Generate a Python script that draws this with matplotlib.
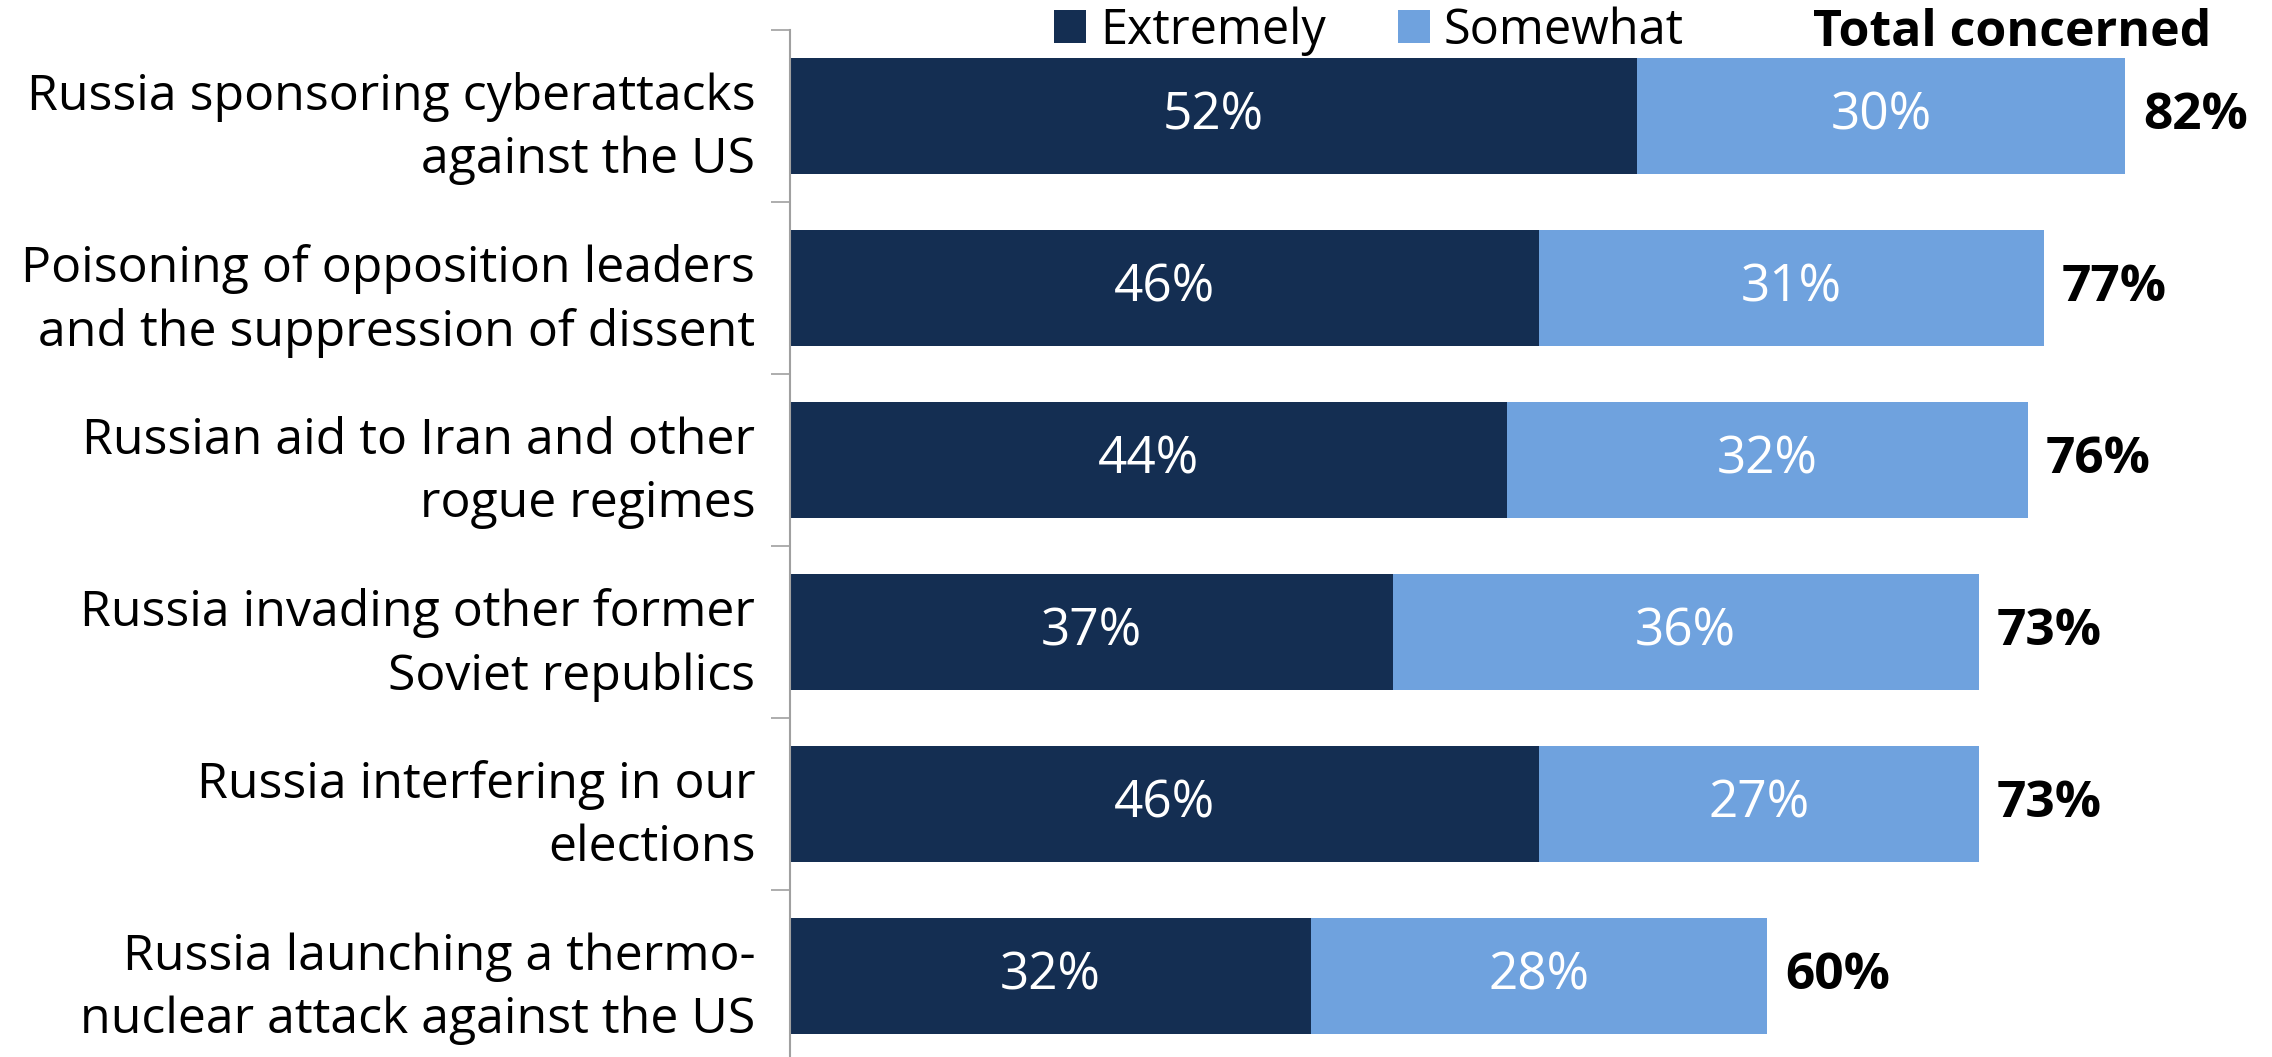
import matplotlib
matplotlib.use("Agg")
import matplotlib.pyplot as plt
from matplotlib.patches import Patch
import numpy as np

categories = [
    "Russia sponsoring cyberattacks\nagainst the US",
    "Poisoning of opposition leaders\nand the suppression of dissent",
    "Russian aid to Iran and other\nrogue regimes",
    "Russia invading other former\nSoviet republics",
    "Russia interfering in our\nelections",
    "Russia launching a thermo-\nnuclear attack against the US",
]
extremely = [52, 46, 44, 37, 46, 32]
somewhat = [30, 31, 32, 36, 27, 28]
series_names = ["Extremely", "Somewhat"]
total_title = "Total concerned"

dark = "#142e52"
light = "#6fa2de"

plt.rcParams['font.family'] = ['Open Sans', 'DejaVu Sans']

W, H = 2272, 1057
fig = plt.figure(figsize=(W / 100, H / 100), dpi=100)
ax_left, ax_right, ax_top, ax_bottom = 790, 2272, 30, 1062
ax = fig.add_axes([ax_left / W, (H - ax_bottom) / H, (ax_right - ax_left) / W, (ax_bottom - ax_top) / H])

y = np.arange(len(categories))
ax.barh(y, extremely, height=0.67, color=dark)
ax.barh(y, somewhat, left=extremely, height=0.67, color=light)

for i in range(len(categories)):
    ax.text(extremely[i] / 2, y[i], f"{extremely[i]}%", ha='center', va='center',
            color='white', fontsize=37)
    ax.text(extremely[i] + somewhat[i] / 2, y[i], f"{somewhat[i]}%", ha='center', va='center',
            color='white', fontsize=37)
    tot = extremely[i] + somewhat[i]
    ax.text(tot + 1.1, y[i], f"{tot}%", ha='left', va='center', color='black',
            fontsize=37, fontweight='bold')

ax.set_xlim(0, 91)
ax.set_ylim(len(categories) - 0.5, -0.5)
ax.set_yticks(y)
ax.set_yticklabels(categories, fontsize=36, linespacing=1.36)
ax.tick_params(axis='y', which='major', length=0, pad=25)
ax.set_yticks(np.arange(-0.5, len(categories), 1.0), minor=True)
ax.tick_params(axis='y', which='minor', length=14, width=1.2, color='#a0a0a0', direction='out')
ax.set_xticks([])
for s in ['top', 'right', 'bottom']:
    ax.spines[s].set_visible(False)
ax.spines['left'].set_color('#a0a0a0')
ax.spines['left'].set_linewidth(1.5)

handles = [Patch(facecolor=dark, label=series_names[0]), Patch(facecolor=light, label=series_names[1])]
leg = fig.legend(handles=handles, loc='upper left', bbox_to_anchor=(1054 / W, 1 - 6 / H), ncol=2,
                 frameon=False, fontsize=35, handlelength=0.66, handleheight=0.66,
                 handletextpad=0.29, columnspacing=1.48, borderpad=0.0, borderaxespad=0.0)
fig.text(2211 / W, 1 - 46 / H, total_title, ha='right', va='baseline', fontsize=36, fontweight='bold')

fig.savefig("out.png", dpi=100)
